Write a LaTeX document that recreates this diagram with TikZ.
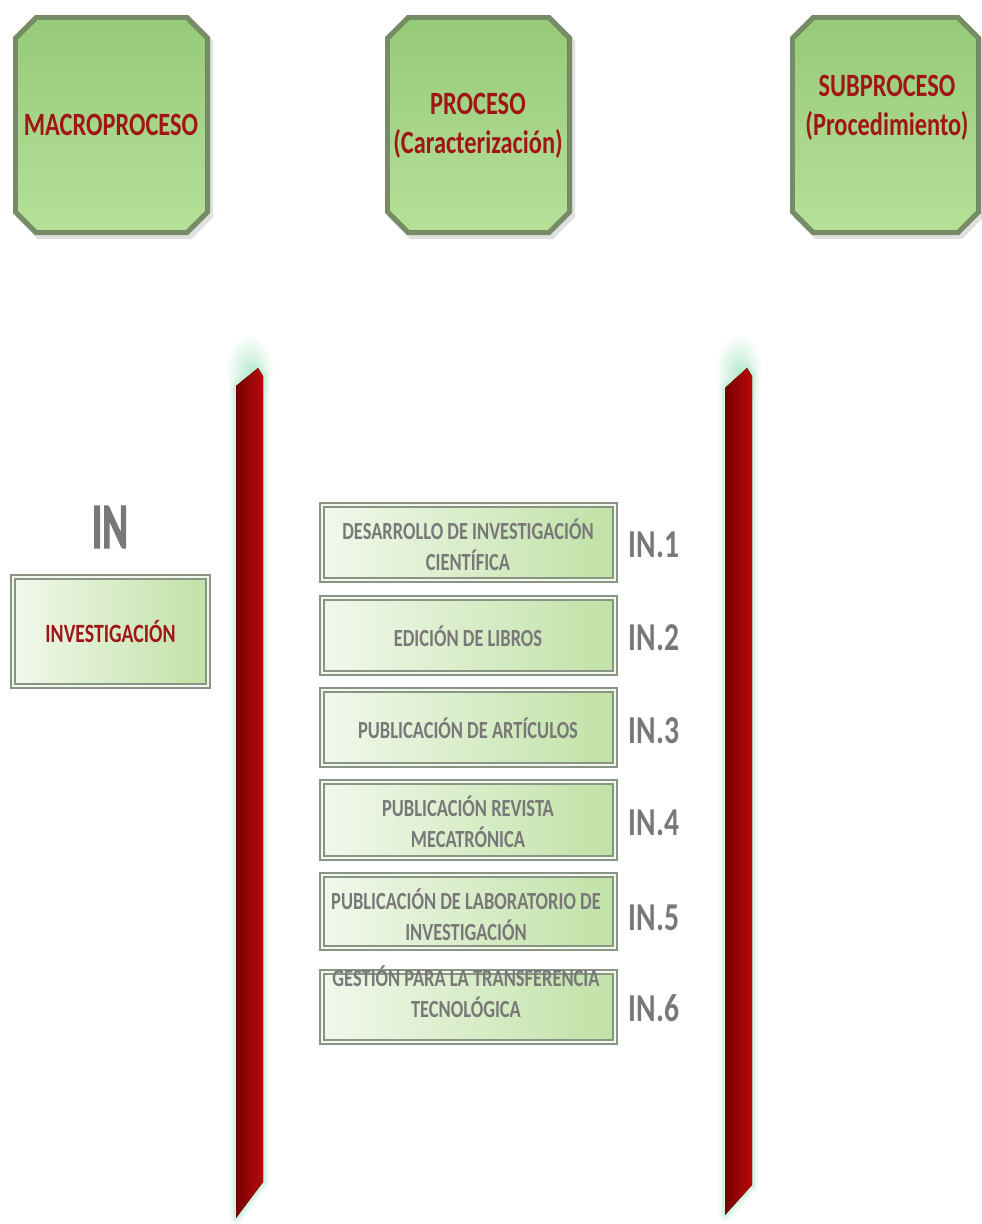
\documentclass[tikz,border=0pt]{standalone}
\usepackage{fontspec}
\usepackage{graphicx}
\setmainfont{Carlito}[FakeStretch=0.75]
\newfontfamily\narrowfont{Carlito}[FakeStretch=0.6, FakeBold=1.5]
\usetikzlibrary{calc}

\definecolor{topgreen}{RGB}{150,202,120}
\definecolor{toplight}{RGB}{182,224,152}
\definecolor{topedge}{RGB}{118,140,102}
\definecolor{midlight}{RGB}{242,248,236}
\definecolor{midgreen}{RGB}{192,226,166}
\definecolor{midedge}{RGB}{138,148,132}
\definecolor{titlered}{RGB}{160,22,22}
\definecolor{labelgray}{RGB}{120,120,120}
\definecolor{barred}{RGB}{184,10,10}
\definecolor{bardark}{RGB}{118,0,0}
\definecolor{glow}{RGB}{190,236,210}

% octagon with cut corners: x1, y1, x2, y2, corner size
\newcommand\cutcornerpath[5]{({#1+#5},#2) -- ({#3-#5},#2) -- (#3,{#2+#5}) -- (#3,{#4-#5}) -- ({#3-#5},#4) -- ({#1+#5},#4) -- (#1,{#4-#5}) -- (#1,{#2+#5}) -- cycle}

\tikzset{
  titletext/.style={font=\fontsize{18.5}{22}\selectfont\bfseries, text=titlered, align=center, inner sep=0pt},
  midbox/.style={rectangle, draw=midedge, line width=1.2pt, double=midlight, double distance=0.7pt,
                 left color=midlight, right color=midgreen, minimum width=5.86cm, inner sep=0pt},
  midtext/.style={font=\fontsize{14}{17.5}\selectfont\bfseries, text=labelgray, align=center, inner sep=0pt},
  codetext/.style={font=\fontsize{22.5}{22.5}\selectfont\bfseries, text=labelgray, inner sep=0pt},
  redbar/.style={left color=bardark, right color=barred},
  barglow/.style={draw=glow, line join=round},
}

\begin{document}
\begin{tikzpicture}[x=0.02cm, y=-0.02cm]
\useasboundingbox (0,0) rectangle (981,1224);
\fill[white] (0,0) rectangle (981,1224);

% ---- header boxes ----
\foreach \xa/\xb in {13/210, 385/572, 790/981} {
  \fill[black, opacity=0.12] \cutcornerpath{\xa+3}{19}{\xb+3}{239}{22};
  \fill[topedge] \cutcornerpath{\xa}{15}{\xb}{235}{22};
  \fill[top color=topgreen, bottom color=toplight] \cutcornerpath{\xa+5}{20}{\xb-5}{230}{19};
}
\node[titletext] (macro) at (111,125) {MACROPROCESO};
\node[titletext] (proceso) at (478,126) {PROCESO\\(Caracterización)};
\node[titletext] (subproceso) at (887,108) {SUBPROCESO\\(Procedimiento)};

% ---- red dividers with soft glow ----
\foreach \xa/\xp/\xb/\ya/\yb/\yc in {236/258/263/386/1182/1218, 725/747/752/388/1185/1215} {
  \shade[inner color=glow, outer color=white] ({(\xa+\xb)/2},370) ellipse (24 and 36);
  \draw[barglow, line width=7pt, opacity=0.25] (\xa,\ya) -- (\xp,368) -- (\xb,376) -- (\xb,\yb) -- (\xa,\yc) -- cycle;
  \draw[barglow, line width=3.5pt, opacity=0.5] (\xa,\ya) -- (\xp,368) -- (\xb,376) -- (\xb,\yb) -- (\xa,\yc) -- cycle;
  \fill[redbar] (\xa,\ya) -- (\xp,368) -- (\xb,376) -- (\xb,\yb) -- (\xa,\yc) -- cycle;
}

% ---- macroprocess ----
\node[font=\fontsize{37}{37}\selectfont\narrowfont\bfseries, text=labelgray, inner sep=0pt] (incode) at (110,527) {IN};
\node[midbox, minimum width=3.9cm, minimum height=2.18cm] (inv) at (110.5,631.5) {};
\node[font=\fontsize{15}{18}\selectfont\bfseries, text=titlered, inner sep=0pt] (invtext) at (inv.center) {INVESTIGACIÓN};

% ---- processes ----
\node[midbox, minimum height=1.5cm]  (p1) at (468.5,542.5) {};
\node[midbox, minimum height=1.5cm]  (p2) at (468.5,635.5) {};
\node[midbox, minimum height=1.5cm]  (p3) at (468.5,727.5) {};
\node[midbox, minimum height=1.52cm] (p4) at (468.5,820) {};
\node[midbox, minimum height=1.46cm] (p5) at (468.5,911.5) {};
\node[midbox, minimum height=1.4cm]  (p6) at (468.5,1007) {};

\node[midtext] (t1) at (468,545) {DESARROLLO DE INVESTIGACIÓN\\CIENTÍFICA};
\node[midtext] (t2) at (468,636) {EDICIÓN DE LIBROS};
\node[midtext] (t3) at (468,728) {PUBLICACIÓN DE ARTÍCULOS};
\node[midtext] (t4) at (468,822) {PUBLICACIÓN REVISTA\\MECATRÓNICA};
\node[midtext] (t5) at (466,915) {PUBLICACIÓN DE LABORATORIO DE\\INVESTIGACIÓN};
\node[midtext] (t6) at (466,992) {GESTIÓN PARA LA TRANSFERENCIA\\TECNOLÓGICA};

\node[codetext] (c1) at (654,545) {IN.1};
\node[codetext] (c2) at (654,638) {IN.2};
\node[codetext] (c3) at (654,731) {IN.3};
\node[codetext] (c4) at (654,823) {IN.4};
\node[codetext] (c5) at (654,918) {IN.5};
\node[codetext] (c6) at (654,1008) {IN.6};
\end{tikzpicture}
\end{document}
